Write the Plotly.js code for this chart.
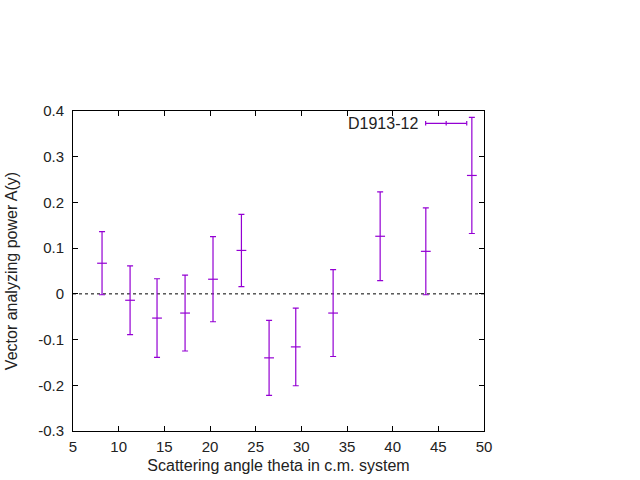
<!DOCTYPE html>
<html><head><meta charset="utf-8">
<script src="https://cdn.plot.ly/plotly-3.0.1.min.js"></script>
<style>html,body{margin:0;padding:0;background:#fff}#chart{width:640px;height:480px}</style>
</head><body><div id="chart"></div>
<script>
const theta = [8.18, 11.25, 14.2, 17.27, 20.33, 23.44, 26.47, 29.39, 33.48, 38.63, 43.63, 48.67];
const ay    = [0.067, -0.014, -0.053, -0.042, 0.032, 0.095, -0.140, -0.116, -0.042, 0.126, 0.093, 0.259];
const ayErr = [0.069, 0.075, 0.086, 0.083, 0.093, 0.079, 0.082, 0.085, 0.095, 0.097, 0.095, 0.127];
const xTicks = [5, 10, 15, 20, 25, 30, 35, 40, 45, 50];
const yTicks = [-0.3, -0.2, -0.1, 0, 0.1, 0.2, 0.3, 0.4];
const seriesName = 'D1913-12';
const col = '#9400D3';

const trace = {
  x: theta, y: ay, type: 'scatter', mode: 'markers', name: seriesName,
  marker: {symbol: 'line-ew', size: 7, color: col, line: {color: col, width: 1.2}},
  error_y: {type: 'data', array: ayErr, visible: true, color: col, thickness: 1.2, width: 3},
  showlegend: false, hoverinfo: 'x+y'
};

const fam = 'Liberation Sans, Arial, sans-serif';
const tickFont = {family: fam, size: 15, color: '#222'};
const titleFont = {family: fam, size: 16, color: '#222'};
const axBase = {
  showline: true, linecolor: '#000', linewidth: 1, mirror: 'ticks',
  ticks: 'inside', ticklen: 5, tickcolor: '#000', tickwidth: 1,
  showgrid: false, zeroline: false, tickfont: tickFont
};
// legend sample geometry (paper coords)
const lx0 = 0.858, lx1 = 0.958, lxc = 0.908, ly = 0.9615, cap = 0.007;
const layout = {
  width: 640, height: 480,
  margin: {l: 73, r: 156, t: 111, b: 49},
  paper_bgcolor: '#fff', plot_bgcolor: '#fff',
  font: tickFont,
  xaxis: Object.assign({}, axBase, {range: [5, 50], tickvals: xTicks, ticktext: xTicks.map(String),
    ticklabelstandoff: 2,
    title: {text: 'Scattering angle theta in c.m. system', font: titleFont, standoff: 5}}),
  yaxis: Object.assign({}, axBase, {range: [-0.3, 0.4], tickvals: yTicks, ticktext: yTicks.map(v => v === 0 ? '0' : v.toFixed(1)),
    ticklabelstandoff: 5,
    title: {text: 'Vector analyzing power A(y)', font: titleFont, standoff: 16}}),
  shapes: [
    {type: 'line', xref: 'paper', yref: 'y', x0: 0, x1: 1, y0: 0, y1: 0, line: {color: '#000', width: 1, dash: 'dot'}, layer: 'below'},
    {type: 'line', xref: 'paper', yref: 'paper', x0: lx0, x1: lx1, y0: ly, y1: ly, line: {color: col, width: 1.2}},
    {type: 'line', xref: 'paper', yref: 'paper', x0: lx0, x1: lx0, y0: ly - cap, y1: ly + cap, line: {color: col, width: 1.2}},
    {type: 'line', xref: 'paper', yref: 'paper', x0: lx1, x1: lx1, y0: ly - cap, y1: ly + cap, line: {color: col, width: 1.2}},
    {type: 'line', xref: 'paper', yref: 'paper', x0: lxc, x1: lxc, y0: ly - cap, y1: ly + cap, line: {color: col, width: 1.2}}
  ],
  annotations: [
    {xref: 'paper', yref: 'paper', x: 0.8445, y: ly, xanchor: 'right', yanchor: 'middle', text: seriesName, showarrow: false, font: titleFont}
  ]
};
Plotly.newPlot('chart', [trace], layout, {staticPlot: true, displayModeBar: false});
</script></body></html>
